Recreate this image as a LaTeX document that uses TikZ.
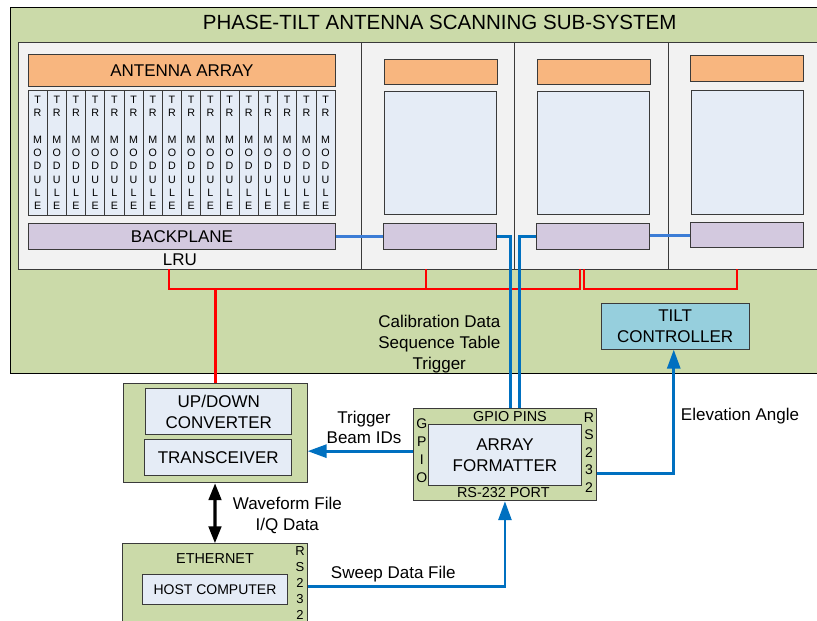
\documentclass[tikz,border=0pt]{standalone}
\usepackage{fontspec}
\setmainfont{Liberation Sans}
\usetikzlibrary{arrows.meta}

\definecolor{subsysgreen}{HTML}{CBDAA9}
\definecolor{panelgray}{HTML}{F2F2F2}
\definecolor{arrayorange}{HTML}{F8B67F}
\definecolor{modblue}{HTML}{E5ECF6}
\definecolor{planepurple}{HTML}{D3C9DF}
\definecolor{tiltcyan}{HTML}{96CFDD}
\definecolor{edgegray}{HTML}{3A3A3A}
\definecolor{linkblue}{HTML}{3C7DD6}
\definecolor{sigblue}{HTML}{0070C0}
\definecolor{busred}{HTML}{FF0000}

\tikzset{
  box/.style={draw=edgegray, line width=0.9pt, inner sep=0pt, anchor=north west},
  greenbox/.style={box, fill=subsysgreen, draw=black},
  panelbox/.style={box, fill=panelgray},
  orangebox/.style={box, fill=arrayorange},
  bluebox/.style={box, fill=modblue},
  purplebox/.style={box, fill=planepurple},
  trmod/.style={draw=edgegray, line width=0.8pt, fill=modblue, inner sep=0pt,
    minimum width=19.2pt, minimum height=124.3pt, align=center,
    font={\fontsize{10.7}{13.3}\selectfont}},
  lbl/.style={inner sep=0pt, align=center, font={\fontsize{17}{20.7}\selectfont}},
  smalllbl/.style={inner sep=0pt, align=center, font={\fontsize{14.4}{17.8}\selectfont}},
  linkline/.style={draw=linkblue, line width=2.8pt},
  gpioline/.style={draw=sigblue, line width=2.8pt},
  sigarrow/.style={draw=sigblue, line width=2.8pt, -{Triangle[width=13pt,length=19pt]}},
  busline/.style={draw=busred, line width=2.9pt},
  dataarrow/.style={draw=black, line width=3.3pt,
    {Triangle[width=12.5pt,length=17pt]}-{Triangle[width=12.5pt,length=17pt]}},
}

\begin{document}
\begin{tikzpicture}[x=1pt, y=-1pt]
\useasboundingbox (0,0) rectangle (817,621);

% ---------- phase-tilt sub-system ----------
\node[greenbox, minimum width=812pt, minimum height=366pt] (subsys) at (9.5,7) {};
\node[lbl, anchor=base, font={\fontsize{20.5}{24}\selectfont}] (title) at (439.7,29.3)
  {PHASE-TILT ANTENNA SCANNING SUB-SYSTEM};

% LRU panels
\node[panelbox, minimum width=343.5pt, minimum height=227.5pt] (lru) at (17.5,41.5) {};
\node[panelbox, minimum width=153.3pt, minimum height=227.5pt] (pan2) at (361,41.5) {};
\node[panelbox, minimum width=154pt, minimum height=227.5pt] (pan3) at (514.3,41.5) {};
\node[panelbox, minimum width=152pt, minimum height=227.5pt] (pan4) at (668.3,41.5) {};

% first LRU: antenna array, TR modules, backplane
\node[orangebox, minimum width=307pt, minimum height=31.4pt] (ant1) at (28,54.3) {};
\node[lbl] (ant1txt) at (ant1.center) {ANTENNA ARRAY};
\foreach \i in {1,...,16}
  \node[trmod] (tr\i) at ({28+19.2*(\i-0.5)},152.85) {T\\R\\[13.3pt]M\\O\\D\\U\\L\\E};
\node[purplebox, minimum width=307pt, minimum height=26.3pt] (bp1) at (28,223) {};
\node[lbl] (bp1txt) at (bp1.center) {BACKPLANE};
\node[lbl, anchor=base] (lrutxt) at (180,265.7) {LRU};

% remaining LRUs
\node[orangebox, minimum width=113pt, minimum height=25.6pt] (ant2) at (383.7,58.7) {};
\node[bluebox, minimum width=112pt, minimum height=123.3pt] (mod2) at (383.7,91) {};
\node[purplebox, minimum width=113pt, minimum height=25.7pt] (bp2) at (382.7,223.3) {};

\node[orangebox, minimum width=112.4pt, minimum height=25.6pt] (ant3) at (537.3,58.7) {};
\node[bluebox, minimum width=111.7pt, minimum height=123.3pt] (mod3) at (537.3,91) {};
\node[purplebox, minimum width=112.7pt, minimum height=25.7pt] (bp3) at (536.3,223.3) {};

\node[orangebox, minimum width=113pt, minimum height=26pt] (ant4) at (690.3,55.3) {};
\node[bluebox, minimum width=111.7pt, minimum height=123.4pt] (mod4) at (691,90.3) {};
\node[purplebox, minimum width=113pt, minimum height=25.6pt] (bp4) at (689.7,221.7) {};

% tilt controller
\node[box, fill=tiltcyan, minimum width=148pt, minimum height=46pt] (tilt) at (600.7,302.7) {};
\node[lbl] (tilttxt) at (tilt.center) {TILT\\CONTROLLER};

\node[lbl, anchor=north] (callbl) at (439.3,315.3) {Calibration Data\\Sequence Table\\Trigger};

% ---------- transceiver assembly ----------
\node[greenbox, draw=edgegray, minimum width=184.2pt, minimum height=99pt] (xcvr) at (122.5,383.3) {};
\node[bluebox, minimum width=146pt, minimum height=45.7pt] (updown) at (145.3,388.3) {};
\node[lbl] (updowntxt) at (updown.center) {UP/DOWN\\CONVERTER};
\node[bluebox, minimum width=147pt, minimum height=35.7pt] (trx) at (144.3,439.3) {};
\node[lbl] (trxtxt) at (trx.center) {TRANSCEIVER};

% ---------- array formatter ----------
\node[greenbox, draw=edgegray, minimum width=182.4pt, minimum height=92pt] (fmt) at (413.3,408.3) {};
\node[bluebox, minimum width=152.4pt, minimum height=61pt] (fmtin) at (428.3,424) {};
\node[lbl] (fmttxt) at (fmtin.center) {ARRAY\\FORMATTER};
\node[smalllbl, anchor=base] (gpiopins) at (510,421.7) {GPIO PINS};
\node[smalllbl, anchor=base] (rsport) at (503.3,497.3) {RS-232 PORT};
\node[smalllbl, font={\fontsize{14}{17.8}\selectfont}] (gpiov) at (421.7,450.8) {G\\P\\I\\O};
\node[smalllbl, font={\fontsize{14}{17.4}\selectfont}] (rsv) at (589,452.5) {R\\S\\2\\3\\2};

% ---------- host computer ----------
\node[greenbox, draw=edgegray, minimum width=184.4pt, minimum height=85.4pt] (host) at (122.3,543.3) {};
\node[smalllbl, anchor=base] (ethtxt) at (215,563.3) {ETHERNET};
\node[bluebox, minimum width=145.6pt, minimum height=30.3pt] (hostin) at (141.7,573.7) {};
\node[smalllbl, font={\fontsize{14}{17}\selectfont}] (hosttxt) at (hostin.center) {HOST COMPUTER};
\node[smalllbl, font={\fontsize{13}{16}\selectfont}] (hostrs) at (300,583) {R\\S\\2\\3\\2};

% ---------- power / control bus ----------
\coordinate (busA) at (169,269);
\coordinate (busB) at (426,269);
\coordinate (busC) at (580,269);
\coordinate (busD) at (584,269);
\coordinate (busE) at (737,269);
\draw[busline] (busA) -- ++(0,20) -| (busC);
\draw[busline] (busD) -- ++(0,20) -| (busE);
\draw[busline] (busB) -- ++(0,20);
\draw[busline] (xcvr.north) -- ++(0,-95);

% ---------- backplane links and GPIO lines ----------
\coordinate (gpioA) at (510.5,408.3);
\coordinate (gpioB) at (519.5,408.3);
\draw[linkline] (bp1.east) -- (bp1.east -| bp2.west);
\draw[gpioline] (bp2.east) -| (gpioA);
\draw[gpioline] (bp3.west) -| (gpioB);
\draw[linkline] ([yshift=1.5pt]bp3.east) -- ([yshift=1.5pt]bp3.east -| bp4.west);

% ---------- signal arrows ----------
\draw[sigarrow] ([yshift=3.6pt]fmt.east -| fmt.west) -- ([yshift=3.6pt]fmt.west -| xcvr.east);
\node[lbl, anchor=north] (trigbeam) at (364,410.7) {Trigger\\Beam IDs};

\draw[sigarrow] ([yshift=-18.4pt]fmt.east) -| ([xshift=-1.4pt]tilt.south);
\node[lbl, anchor=base] (elevtxt) at (740,420) {Elevation Angle};

\draw[sigarrow] (host.east) -| (fmt.south);
\node[lbl, anchor=base] (sweeptxt) at (393.3,578.3) {Sweep Data File};

\draw[dataarrow] (xcvr.south) -- (host.north);
\node[lbl, anchor=north] (wavetxt) at (287.3,497.3) {Waveform File\\I/Q Data};

\end{tikzpicture}
\end{document}
